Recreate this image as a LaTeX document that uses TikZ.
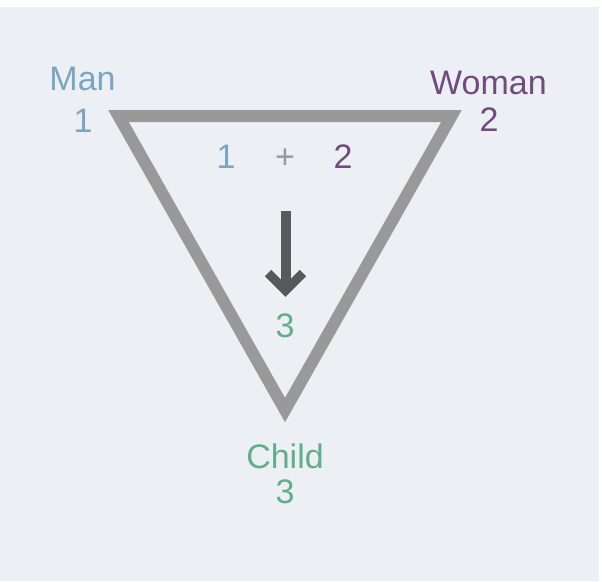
\documentclass[tikz,border=0pt]{standalone}
\usepackage{fontspec}
\setmainfont{Liberation Sans}
\definecolor{bgc}{RGB}{236,239,244}
\definecolor{mancol}{RGB}{122,166,194}
\definecolor{womancol}{RGB}{112,76,126}
\definecolor{childcol}{RGB}{98,174,136}
\definecolor{tricol}{RGB}{153,153,153}
\definecolor{arrcol}{RGB}{88,89,91}
\begin{document}
\begin{tikzpicture}[x=1pt,y=-1pt,
  lbl/.style={anchor=base,inner sep=0pt,font=\fontsize{34}{40}\selectfont},
  tri/.style={draw=tricol,line width=12pt,miter limit=10,line join=miter}]
\useasboundingbox (0,0) rectangle (602,581);
\fill[white] (0,0) rectangle (602,581);
\fill[bgc] (0,7) rectangle (599,581);
% triangle vertices
\coordinate (vm) at (118.5,116);
\coordinate (vw) at (451.5,116);
\coordinate (vc) at (285,410);
\draw[tri] (vm) -- (vw) -- (vc) -- cycle;
% labels
\node[lbl,text=mancol] (man) at (82.5,90) {Man};
\node[lbl,text=mancol] (mann) at (83,132) {1};
\node[lbl,text=womancol] (woman) at (488.5,94) {Woman};
\node[lbl,text=womancol] (womann) at (489,131) {2};
\node[lbl,text=childcol] (child) at (285,468) {Child};
\node[lbl,text=childcol] (childn) at (285,503) {3};
\node[lbl,text=mancol] (s1) at (226,168) {1};
\node[lbl,text=tricol] (plus) at (285,168) {+};
\node[lbl,text=womancol] (s2) at (343,168) {2};
\node[lbl,text=childcol] (s3) at (285,337) {3};
% arrow
\coordinate (atop) at (285.5,211);
\coordinate (abot) at (285.5,289);
\coordinate (al) at (268,273);
\coordinate (ar) at (303,273);
\coordinate (atip) at (285.5,290.5);
\draw[arrcol,line width=10pt] (atop) -- (abot);
\draw[arrcol,line width=9pt,line join=miter] (al) -- (atip) -- (ar);
\end{tikzpicture}
\end{document}
